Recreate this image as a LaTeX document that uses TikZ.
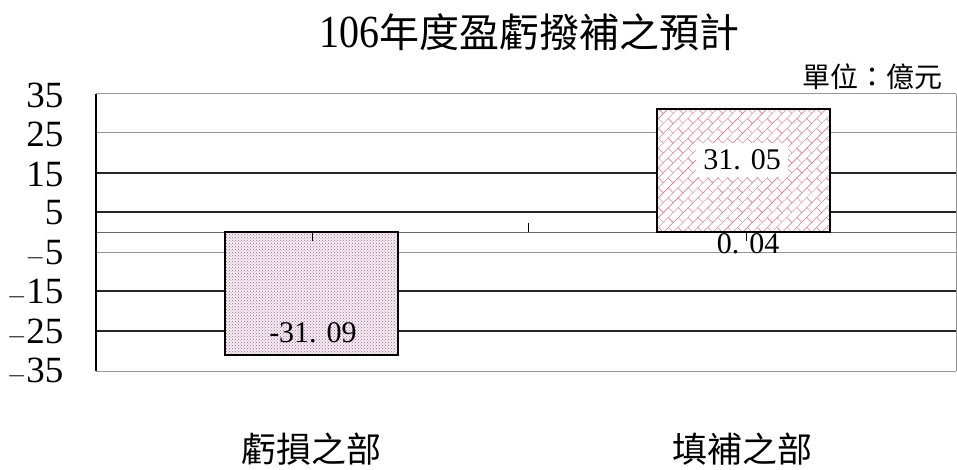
\documentclass[tikz,border=0pt]{standalone}
\usepackage{fontspec}
\setmainfont{Liberation Serif}
\newfontfamily\cjk{Noto Sans CJK TC}
\usepackage{tikz}
\usetikzlibrary{patterns,patterns.meta}
\definecolor{brickred}{RGB}{226,120,140}
\definecolor{dotpurple}{RGB}{150,110,140}
\definecolor{dotback}{RGB}{246,236,242}
\definecolor{gridgray}{RGB}{150,150,150}
\tikzdeclarepattern{
  name=diagbricks, type=uncolored,
  bottom left={(-.1pt,-.1pt)}, top right={(14.1pt,14.1pt)},
  tile size={(14pt,14pt)}, tile transformation={rotate=45},
  code={
    \draw[line width=.6pt] (0pt,0pt) -- (14pt,0pt) (0pt,7pt) -- (14pt,7pt)
      (0pt,0pt) -- (0pt,7pt) (7pt,7pt) -- (7pt,14pt);
  }
}
\begin{document}
\begin{tikzpicture}[x=1pt,y=-1pt,
  major/.style={line width=1.3pt,black!85},
  minor/.style={line width=1pt,gridgray},
  ylab/.style={anchor=east,font={\fontsize{37}{37}\selectfont}},
  catlab/.style={font={\cjk\fontsize{35}{35}\selectfont}},
  vallab/.style={font={\fontsize{30}{30}\selectfont}}]
\useasboundingbox (0,0) rectangle (957,470);
% title and unit
\node[font={\fontsize{40}{40}\selectfont}] (title) at (529,32) {\scalebox{1}[1.15]{106}{\cjk 年度盈虧撥補之預計}};
\node[font={\cjk\fontsize{28}{28}\selectfont}] (unit) at (872,77) {單位：億元};
% grid
\draw[minor] (96,94) -- (956,94);
\draw[minor] (96,133) -- (956,133);
\draw[major] (96,173) -- (956,173);
\draw[major] (96,212) -- (956,212);
\draw[minor,gridgray!70!black] (96,232) -- (956,232);
\draw[minor] (96,252) -- (956,252);
\draw[major] (96,291) -- (956,291);
\draw[major] (96,331) -- (956,331);
\draw[minor] (96,371) -- (956,371);
\draw[line width=1.2pt] (96,94) -- (96,371);
\draw[minor] (956,94) -- (956,371);
% y labels
\node[ylab] (l35) at (67,95) {35};
\node[ylab] (l25) at (67,134) {25};
\node[ylab] (l15) at (67,174) {15};
\node[ylab] (l5) at (67,213) {5};
\node[ylab] (lm5) at (67,253) {$-$5};
\node[ylab] (lm15) at (67,292) {$-$15};
\node[ylab] (lm25) at (67,332) {$-$25};
\node[ylab] (lm35) at (67,371) {$-$35};
% bars
\fill[dotback] (225,232) rectangle (398,355);
\fill[pattern=crosshatch dots,pattern color=dotpurple] (225,232) rectangle (398,355);
\draw[line width=2pt] (225,232) rectangle (398,355);
\fill[white] (657,109) rectangle (830,232);
\fill[pattern=diagbricks,pattern color=brickred] (657,109) rectangle (830,232);
\draw[line width=2.2pt] (657,109) rectangle (830,232);
% ticks
\draw[line width=1pt] (312,232) -- (312,241);
\draw[line width=1pt] (528,223) -- (528,232);
\draw[line width=1pt] (746,232) -- (746,241);
% value labels
\node[vallab] (vloss) at (313,333) {-31. 09};
\node[vallab,fill=white,inner sep=7pt] (vfill) at (742,160) {31. 05};
\node[vallab] (vzero) at (748,244) {0. 04};
% categories
\node[catlab] (closs) at (311,449) {虧損之部};
\node[catlab] (cfill) at (742,449) {填補之部};
\end{tikzpicture}
\end{document}
